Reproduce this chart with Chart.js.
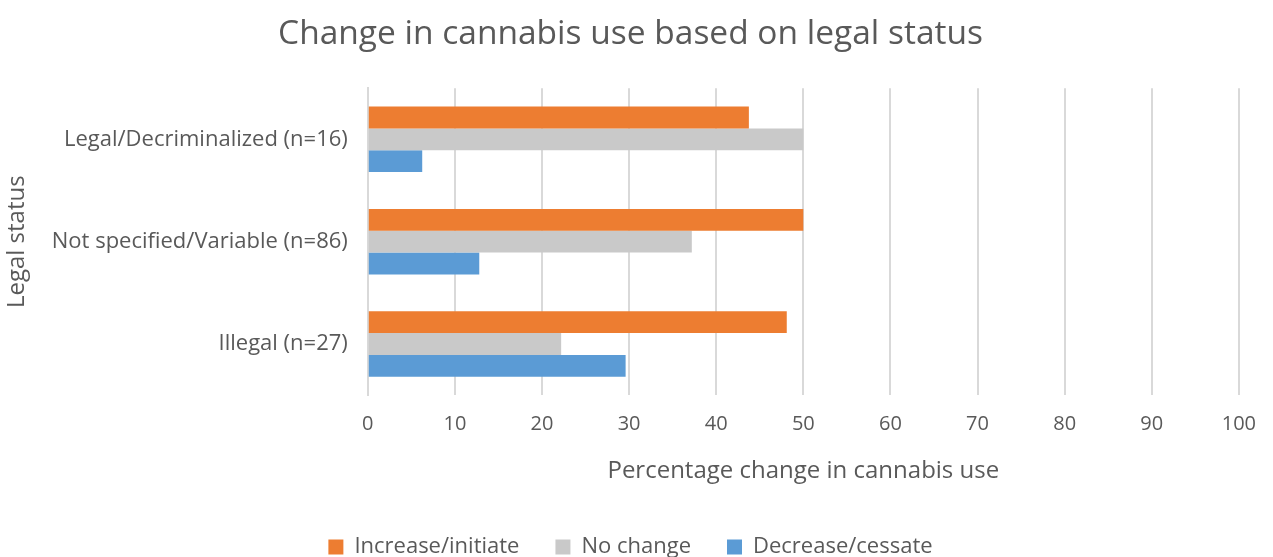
<!DOCTYPE html>
<html>
<head>
<meta charset="utf-8">
<script src="https://cdn.jsdelivr.net/npm/chart.js@4/dist/chart.umd.min.js"></script>
<style>
  html, body { margin: 0; padding: 0; background: #fff; }
  #wrap { width: 1273px; height: 557px; }
</style>
</head>
<body>
<div id="wrap"><canvas id="grafico"></canvas></div>
<script>
const categorias = ['Legal/Decriminalized (n=16)', 'Not specified/Variable (n=86)', 'Illegal (n=27)'];
const aumento = [43.75, 50.0, 48.1];
const sinCambio = [50.0, 37.2, 22.2];
const disminucion = [6.25, 12.8, 29.6];

const fuente = '"Open Sans", Lato, sans-serif';
const gris = '#595959';

new Chart(document.getElementById('grafico').getContext('2d'), {
    type: 'bar',
    data: {
        labels: categorias,
        datasets: [
            { label: 'Increase/initiate', data: aumento, backgroundColor: '#ED7D31' },
            { label: 'No change', data: sinCambio, backgroundColor: '#C9C9C9' },
            { label: 'Decrease/cessate', data: disminucion, backgroundColor: '#5B9BD5' }
        ]
    },
    options: {
        indexAxis: 'y',
        responsive: true,
        maintainAspectRatio: false,
        animation: false,
        datasets: { bar: { categoryPercentage: 0.64, barPercentage: 1.0 } },
        layout: { padding: { top: 10, right: 15, left: 3, bottom: 0 } },
        plugins: {
            title: {
                display: true,
                text: 'Change in cannabis use based on legal status',
                color: gris,
                font: { family: fuente, size: 33.5, weight: 'normal' },
                padding: { top: 4, bottom: 34 }
            },
            legend: {
                position: 'bottom',
                maxHeight: 57,
                labels: {
                    color: gris,
                    font: { family: fuente, size: 22 },
                    boxWidth: 15,
                    boxHeight: 15,
                    padding: 36
                }
            },
            tooltip: { enabled: false }
        },
        scales: {
            x: {
                min: 0,
                max: 100,
                ticks: { stepSize: 10, color: gris, font: { family: fuente, size: 20 }, padding: 17 },
                grid: { color: '#D9D9D9', lineWidth: 2, drawTicks: false },
                border: { display: false },
                title: {
                    display: true,
                    text: 'Percentage change in cannabis use',
                    color: gris,
                    font: { family: fuente, size: 24 },
                    padding: { top: 4, bottom: 14 }
                }
            },
            y: {
                ticks: { color: gris, font: { family: fuente, size: 22 }, padding: 20 },
                grid: { display: false, drawTicks: false },
                border: { display: true, color: '#D9D9D9', width: 2 },
                title: {
                    display: true,
                    text: 'Legal status',
                    color: gris,
                    font: { family: fuente, size: 24 },
                    padding: { top: 0, bottom: 0 }
                }
            }
        }
    }
});
</script>
</body>
</html>
